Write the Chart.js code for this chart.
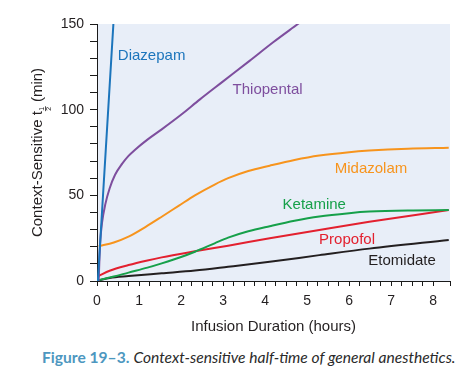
<!DOCTYPE html>
<html>
<head>
<meta charset="utf-8">
<script src="https://cdn.jsdelivr.net/npm/chart.js@4/dist/chart.umd.min.js"></script>
<style>
  html, body { margin: 0; padding: 0; background: #ffffff; }
  #wrap { position: absolute; left: 0; top: 0; width: 470px; height: 340px; }
  #caption { position: absolute; left: 42px; top: 348px; font-family: Lato, "Open Sans", sans-serif; font-size: 15.6px; white-space: nowrap; color: #2a2a2a; }
  #caption b { color: #4d97c0; font-weight: 700; font-style: normal; }
  #caption i { font-style: italic; }
</style>
</head>
<body>
<div id="wrap"><canvas id="c" width="470" height="340"></canvas></div>
<div id="caption"><b>Figure 19–3.</b> <i>Context-sensitive half-time of general anesthetics.</i></div>
<script>
// ---- data (hours, minutes) ----
const diazepamX   = [0.02, 0.39, 0.42];
const diazepamY   = [0, 150, 162];
const thiopentalX = [0.04, 0.06, 0.08, 0.12, 0.2, 0.3, 0.43, 0.6, 0.75, 0.9, 1.2, 1.54, 2.0, 2.45, 3.0, 3.63, 4.2, 4.78, 5.0];
const thiopentalY = [0, 14, 24, 34, 45, 54, 62, 68.5, 73, 76.5, 82.5, 88.5, 97, 106, 116.5, 128.5, 139.5, 150, 154];
const midazolamX  = [0.04, 0.4, 0.75, 1.15, 1.54, 1.95, 2.33, 2.8, 3.12, 3.6, 4.11, 4.7, 5.29, 6.0, 6.48, 7.4, 8.37];
const midazolamY  = [20.4, 22.5, 25.9, 31.5, 37.5, 44, 50, 56.3, 60, 64.2, 67.3, 70.6, 73.2, 75.2, 76.1, 77.2, 77.8];
const ketamineX   = [0.04, 0.4, 0.75, 1.2, 1.54, 2.0, 2.33, 2.8, 3.12, 3.6, 4.11, 4.7, 5.29, 6.0, 6.48, 7.4, 8.37];
const ketamineY   = [0.5, 2.6, 4.9, 7.8, 10.3, 14, 17.1, 22, 25.3, 29, 32, 35.2, 37.7, 39.6, 40.5, 41.2, 41.4];
const propofolX   = [0.04, 0.3, 0.75, 1.2, 1.54, 2.33, 3.12, 4.11, 5.29, 6.48, 8.37];
const propofolY   = [3.0, 6.0, 9.3, 12, 13.8, 17.3, 20.6, 24.9, 29.8, 34.6, 41.4];
const etomidateX  = [0.04, 0.3, 0.75, 1.54, 2.33, 3.12, 4.11, 5.29, 6.48, 8.37];
const etomidateY  = [0.3, 1.8, 2.9, 4.5, 6.1, 8.3, 11.2, 15.1, 18.9, 23.9];
const drugNames   = ["Diazepam", "Thiopental", "Midazolam", "Ketamine", "Propofol", "Etomidate"];
const xTickLabels = [0, 1, 2, 3, 4, 5, 6, 7, 8];
const yTickLabels = [0, 50, 100, 150];
const xTitle = "Infusion Duration (hours)";
const yTitleParts = ["Context-Sensitive t", "1", "2", " (min)"];

// ---- styling ----
const colors = ["#1c75bc", "#7e4e9e", "#f7941d", "#16a04a", "#e3202f", "#231f20"];
// label anchor positions (data units) for inline series names
const labelAnchors = [[1.30, 131.3], [4.06, 111.5], [6.52, 65.4], [5.17, 44.4], [5.95, 23.9], [7.26, 11.7]];

const seriesX = [diazepamX, thiopentalX, midazolamX, ketamineX, propofolX, etomidateX];
const seriesY = [diazepamY, thiopentalY, midazolamY, ketamineY, propofolY, etomidateY];

const datasets = drugNames.map((name, i) => ({
  label: name,
  data: seriesX[i].map((x, k) => ({ x: x, y: seriesY[i][k] })),
  borderColor: colors[i],
  backgroundColor: colors[i],
  borderWidth: 2,
  pointRadius: 0,
  fill: false,
  cubicInterpolationMode: 'monotone',
  clip: 0
}));

const FONT = "'Liberation Sans', Arial, Helvetica, sans-serif";

const bgPlugin = {
  id: 'bg',
  beforeDraw(chart) {
    const { ctx, chartArea: a } = chart;
    ctx.save();
    ctx.fillStyle = '#e8eef8';
    ctx.fillRect(a.left, a.top, a.right - a.left, a.bottom - a.top);
    ctx.restore();
  }
};

const labelPlugin = {
  id: 'seriesLabels',
  afterDatasetsDraw(chart) {
    const { ctx, scales, chartArea: a } = chart;
    ctx.save();
    ctx.font = "15px " + FONT;
    ctx.textAlign = 'center';
    ctx.textBaseline = 'middle';
    drugNames.forEach((n, i) => {
      ctx.fillStyle = colors[i];
      ctx.fillText(n, scales.x.getPixelForValue(labelAnchors[i][0]), scales.y.getPixelForValue(labelAnchors[i][1]));
    });
    ctx.restore();

    // y-axis title with stacked ½ subscript
    ctx.save();
    const cy = (a.top + a.bottom) / 2;
    ctx.translate(37.5, cy);
    ctx.rotate(-Math.PI / 2);
    ctx.fillStyle = '#231f20';
    ctx.strokeStyle = '#231f20';
    ctx.textBaseline = 'middle';
    ctx.textAlign = 'left';
    const main = "15px " + FONT, small = "7px " + FONT;
    ctx.font = main;
    const w1 = ctx.measureText(yTitleParts[0]).width;
    const w3 = ctx.measureText(yTitleParts[3]).width;
    ctx.font = small;
    const wf = Math.max(ctx.measureText(yTitleParts[1]).width, ctx.measureText(yTitleParts[2]).width) + 1;
    const total = w1 + wf + w3;
    let x0 = -total / 2;
    ctx.font = main;
    ctx.fillText(yTitleParts[0], x0, 0);
    ctx.font = small;
    ctx.textAlign = 'center';
    const fx = x0 + w1 + wf / 2;
    ctx.fillText(yTitleParts[1], fx, 4.5);
    ctx.fillText(yTitleParts[2], fx, 11.5);
    ctx.lineWidth = 0.8;
    ctx.beginPath();
    ctx.moveTo(fx - wf / 2, 8);
    ctx.lineTo(fx + wf / 2, 8);
    ctx.stroke();
    ctx.font = main;
    ctx.textAlign = 'left';
    ctx.fillText(yTitleParts[3], x0 + w1 + wf, 0);
    ctx.restore();
  }
};

new Chart(document.getElementById('c'), {
  type: 'line',
  data: { datasets },
  plugins: [bgPlugin, labelPlugin],
  options: {
    responsive: false,
    animation: false,
    layout: { padding: { left: 0, top: 24, right: 20, bottom: 0 } },
    plugins: { legend: { display: false }, tooltip: { enabled: false } },
    scales: {
      x: {
        type: 'linear',
        min: 0, max: 8.4,
        afterFit(s) { s.height = 59; },
        border: { display: true, color: '#1a1a1a', width: 1 },
        grid: { drawOnChartArea: false, drawTicks: true, tickLength: 5, color: '#1a1a1a', tickColor: '#1a1a1a' },
        ticks: {
          stepSize: 0.25, padding: 7, autoSkip: false, maxRotation: 0,
          color: '#231f20', font: { family: FONT, size: 14 },
          callback: v => xTickLabels.includes(v) ? String(v) : ''
        },
        title: { display: true, text: xTitle, color: '#231f20', font: { family: FONT, size: 15 }, padding: { top: 0, bottom: 4 } }
      },
      y: {
        type: 'linear',
        min: 0, max: 150,
        afterFit(s) { s.width = 97; },
        border: { display: true, color: '#1a1a1a', width: 1 },
        grid: { drawOnChartArea: false, drawTicks: true, tickLength: 7, color: '#1a1a1a', tickColor: '#1a1a1a' },
        ticks: {
          stepSize: 10, padding: 6, autoSkip: false,
          color: '#231f20', font: { family: FONT, size: 14 },
          callback: v => yTickLabels.includes(v) ? String(v) : ''
        },
        title: { display: false }
      }
    }
  }
});
</script>
</body>
</html>
